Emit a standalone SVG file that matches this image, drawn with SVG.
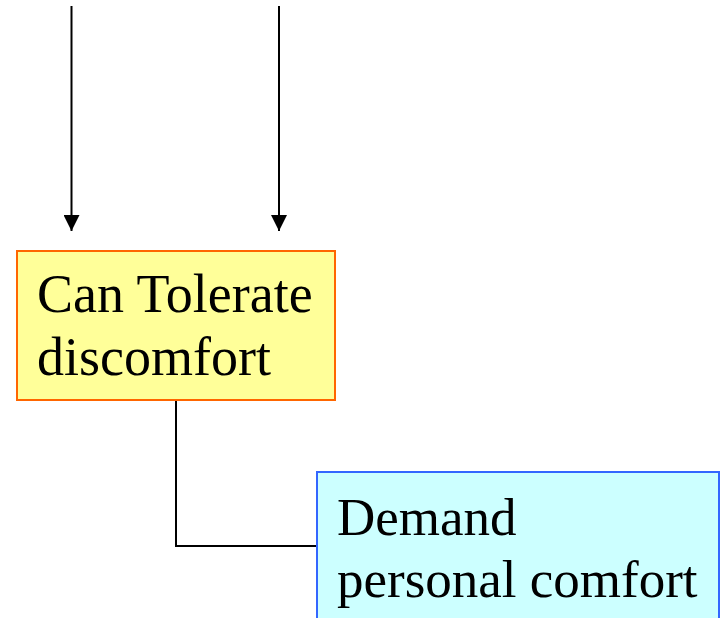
<svg xmlns="http://www.w3.org/2000/svg" width="726" height="618" viewBox="0 0 726 618">
  <defs>
    <marker id="arrow" viewBox="0 0 16 16" refX="16" refY="8" markerWidth="16" markerHeight="16" markerUnits="userSpaceOnUse" orient="auto">
      <path d="M0,0 L16,8 L0,16 Z" fill="#000"/>
    </marker>
    <style>
      .edge { fill: none; stroke: #000; stroke-width: 2; }
      .label { font-family: "Liberation Serif", "Times New Roman", serif; font-size: 53px; fill: #000; }
      .big { font-size: 54px; }
      .yellow { fill: #ffff99; stroke: #ff6600; stroke-width: 2; }
      .cyan { fill: #ccffff; stroke: #3366ff; stroke-width: 2; }
    </style>
  </defs>
  <rect width="726" height="618" fill="#fff"/>

  <g id="connectors">
    <line class="edge" x1="71.5" y1="6" x2="71.5" y2="231" marker-end="url(#arrow)"/>
    <line class="edge" x1="279" y1="6" x2="279" y2="231" marker-end="url(#arrow)"/>
    <polyline class="edge" points="176,400 176,546 317,546"/>
  </g>

  <g id="tolerate">
    <rect class="yellow" x="17" y="251" width="318" height="149"/>
    <text class="label big" x="37" y="312">Can Tolerate</text>
    <text class="label big" x="37" y="375">discomfort</text>
  </g>

  <g id="demand">
    <rect class="cyan" x="317" y="472" width="402" height="160"/>
    <text class="label" x="337" y="535">Demand</text>
    <text class="label" x="337" y="597">personal comfort</text>
  </g>
</svg>
